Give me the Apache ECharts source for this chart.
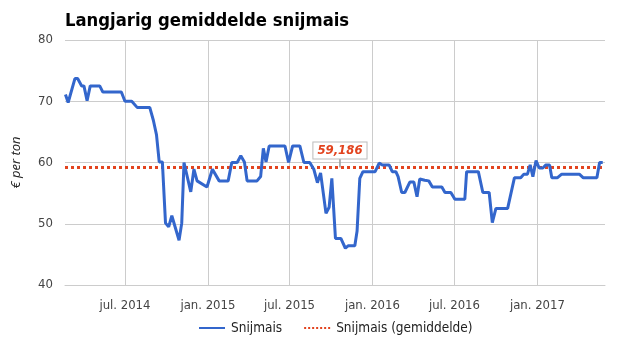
<!DOCTYPE html>
<html><head><meta charset="utf-8">
<script src="https://cdn.jsdelivr.net/npm/echarts@6/dist/echarts.min.js"></script>
<style>html,body{margin:0;padding:0;background:#fff}#c{width:625px;height:355px}</style>
</head><body><div id="c"></div>
<script>
const dates = [
'2014-02-19','2014-02-25','2014-03-12','2014-03-18','2014-03-27','2014-04-01','2014-04-08','2014-04-15',
'2014-05-06','2014-05-13','2014-06-23','2014-07-01','2014-07-16','2014-07-28','2014-08-25','2014-09-02',
'2014-09-09','2014-09-15','2014-09-22','2014-09-29','2014-10-06','2014-10-13','2014-10-29','2014-11-04',
'2014-11-09','2014-11-24','2014-12-01','2014-12-08','2014-12-30','2015-01-11','2015-01-26','2015-02-15',
'2015-02-23','2015-03-07','2015-03-15','2015-03-23','2015-03-29','2015-04-20','2015-04-28','2015-05-04',
'2015-05-10','2015-05-17','2015-06-21','2015-06-29','2015-07-08','2015-07-24','2015-08-02','2015-08-15',
'2015-08-24','2015-09-01','2015-09-08','2015-09-20','2015-09-27','2015-10-03','2015-10-11','2015-10-23',
'2015-11-02','2015-11-08','2015-11-23','2015-11-28','2015-12-04','2015-12-11','2016-01-07','2016-01-16',
'2016-01-23','2016-02-07','2016-02-14','2016-02-22','2016-02-27','2016-03-06','2016-03-13','2016-03-24',
'2016-04-02','2016-04-09','2016-04-15','2016-04-26','2016-05-05','2016-05-13','2016-06-03','2016-06-10',
'2016-06-23','2016-07-02','2016-07-24','2016-07-28','2016-08-23','2016-09-02','2016-09-16','2016-09-23',
'2016-10-01','2016-10-27','2016-11-11','2016-11-25','2016-12-02','2016-12-10','2016-12-16','2016-12-22',
'2016-12-29','2017-01-05','2017-01-13','2017-01-20','2017-01-28','2017-02-02','2017-02-14','2017-02-24',
'2017-04-04','2017-04-13','2017-05-13','2017-05-19','2017-05-26'
];
const values = [
71.1,69.8,73.7,73.7,72.5,72.5,70.1,72.5,
72.5,71.5,71.5,70.0,70.0,69.0,69.0,66.9,
64.5,60.1,60.1,50.1,49.5,51.3,47.3,50.1,
60.0,55.2,58.9,57.0,56.0,58.9,57.0,57.0,
60.0,60.0,61.1,60.1,57.0,57.0,57.7,62.3,
60.1,62.7,62.7,60.0,62.7,62.7,60.0,60.0,
58.9,56.7,58.3,51.7,52.7,57.4,47.6,47.6,
46.0,46.4,46.4,48.8,57.4,58.5,58.5,59.9,
59.6,59.6,58.5,58.5,57.7,55.1,55.1,56.8,
56.8,54.4,57.3,57.1,57.0,56.0,56.0,55.1,
55.1,54.0,54.0,58.5,58.5,55.1,55.1,50.2,
52.5,52.5,57.5,57.5,58.1,58.1,59.6,57.7,
60.3,59.1,59.1,59.6,59.6,57.5,57.5,58.1,
58.1,57.5,57.5,60.0,60.0
];
const meanValue = 59.186;
const tickDates = ['2014-07-01','2015-01-01','2015-07-01','2016-01-01','2016-07-01','2017-01-01'];
const tickLabels = ['jul. 2014','jan. 2015','jul. 2015','jan. 2016','jul. 2016','jan. 2017'];
const axisMinDate = '2014-02-18';
const axisMaxDate = '2017-05-31';
const calloutDate = '2015-10-21';

function toTime(s){ const p = s.split('-').map(Number); return Date.UTC(p[0], p[1]-1, p[2]); }
const tickTimes = tickDates.map(toTime);
const xMin = toTime(axisMinDate), xMax = toTime(axisMaxDate);
const seriesData = dates.map((d,i) => [toTime(d), values[i]]);
const FONT = '"DejaVu Sans Condensed", "DejaVu Sans", sans-serif';
const RED = '#e2431e';
const meanLabel = meanValue.toString().replace('.',',');

const chart = echarts.init(document.getElementById('c'), null, {renderer:'canvas'});
chart.setOption({
  animation:false,
  backgroundColor:'#fff',
  textStyle:{fontFamily:FONT},
  title:{text:'Langjarig gemiddelde snijmais', left:60, top:7,
    textStyle:{fontFamily:FONT, fontSize:18.3, fontWeight:'bold', color:'#000'}},
  grid:{left:65, right:20, top:40, bottom:70, containLabel:false},
  legend:{bottom:15, left:193, itemWidth:26, itemHeight:10, itemGap:21,
    itemStyle:{opacity:0},
    textStyle:{fontFamily:FONT, fontSize:13.5, color:'#222', padding:[0,0,0,1]},
    data:['Snijmais','Snijmais (gemiddelde)']},
  xAxis:{type:'value', min:xMin, max:xMax, scale:true,
    axisLine:{show:true, lineStyle:{color:'#ccc', width:1}},
    axisTick:{show:false, customValues:tickTimes},
    axisLabel:{customValues:tickTimes, color:'#444', fontSize:13, fontFamily:FONT, margin:14,
      formatter:(v)=>{ const i = tickTimes.indexOf(v); return i>=0 ? tickLabels[i] : ''; }},
    splitLine:{show:true, lineStyle:{color:'#ccc', width:1}}},
  yAxis:{type:'value', min:40, max:80, interval:10,
    name:'€ per ton', nameLocation:'middle', nameGap:42,
    nameTextStyle:{fontStyle:'italic', fontSize:13, color:'#222', fontFamily:'"Open Sans", sans-serif'},
    axisLine:{show:false}, axisTick:{show:false},
    axisLabel:{color:'#444', fontSize:13, fontFamily:FONT, margin:12},
    splitLine:{lineStyle:{color:'#ccc', width:1}}},
  series:[
    {name:'Snijmais', type:'line', data:seriesData, symbol:'none', color:'#3366cc',
      lineStyle:{color:'#3366cc', width:3}, z:3},
    {name:'Snijmais (gemiddelde)', type:'line', data:[[xMin, meanValue],[xMax, meanValue]],
      symbol:'none', showSymbol:false, color:RED,
      lineStyle:{color:RED, width:3, type:'dotted'}, z:2,
      markPoint:{silent:true, symbol:'rect', symbolSize:[1.5,9], symbolOffset:[0,-4.5],
        itemStyle:{color:'#999', opacity:1},
        label:{show:true, position:'top', distance:0, formatter:meanLabel,
          fontStyle:'italic', fontWeight:'bold', fontSize:13, color:RED, fontFamily:FONT,
          backgroundColor:'#fff', borderColor:'#bbb', borderWidth:1, padding:[2,4,1,4]},
        data:[{coord:[toTime(calloutDate), meanValue]}]}
    }
  ]
});
</script></body></html>
